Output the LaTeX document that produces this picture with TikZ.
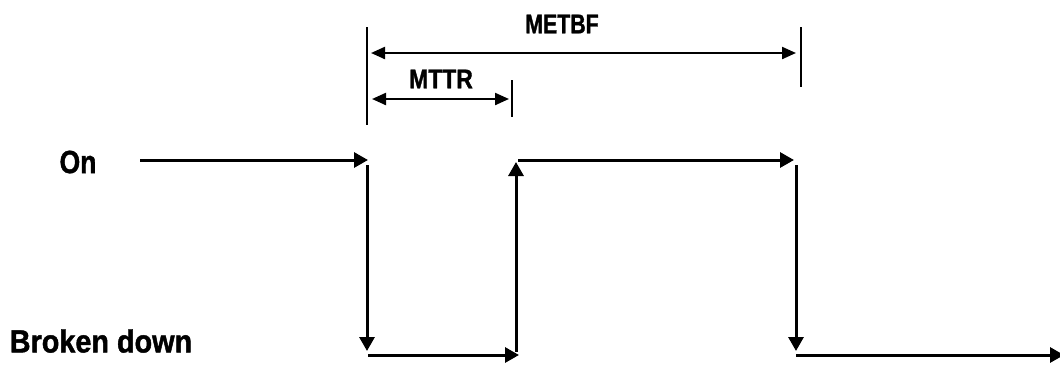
\documentclass[tikz,border=0pt]{standalone}
\usepackage{fontspec}
\setmainfont{Liberation Sans}
\newfontfamily\heavy{Liberation Sans Bold}[FakeBold=1.5]
\usetikzlibrary{arrows.meta}
\newcommand{\cond}[2]{\scalebox{#1}[1]{#2}}
\begin{document}
\begin{tikzpicture}[x=1pt,y=-1pt,
  flow/.style={line width=3pt,-{Triangle[length=14pt,width=15pt]}},
  dim/.style={line width=2.2pt,{Triangle[length=14pt,width=12pt]}-{Triangle[length=14pt,width=12pt]}},
  tick/.style={line width=2pt},
  lbl/.style={font=\heavy\fontsize{32}{34}\selectfont, inner sep=0pt},
  dlbl/.style={font=\heavy\fontsize{27}{30}\selectfont, inner sep=0pt}]
\useasboundingbox (0,0) rectangle (1060,365);
% labels
\node[lbl] (on) at (78,162) {\cond{0.83}{On}};
\node[lbl] (bd) at (101,341) {\cond{0.90}{Broken down}};
% flow coordinates
\coordinate (s0) at (140,160);
\coordinate (a1) at (368,160);
\coordinate (d1s) at (367,165);
\coordinate (d1e) at (367,351);
\coordinate (b1s) at (368,355);
\coordinate (b1e) at (519,355);
\coordinate (u1s) at (516,352);
\coordinate (u1e) at (516,162);
\coordinate (t1s) at (518,160);
\coordinate (t1e) at (794,160);
\coordinate (d2s) at (796,165);
\coordinate (d2e) at (796,351);
\coordinate (b2s) at (796,355);
\coordinate (b2e) at (1064,355);
\draw[flow] (s0) -- (a1);
\draw[flow] (d1s) -- (d1e);
\draw[flow] (b1s) -- (b1e);
\draw[flow] (u1s) -- (u1e);
\draw[flow] (t1s) -- (t1e);
\draw[flow] (d2s) -- (d2e);
\draw[flow] (b2s) -- (b2e);
% dimension ticks
\coordinate (tl1) at (367,27);
\coordinate (tl2) at (367,125);
\coordinate (tr1) at (801,27);
\coordinate (tr2) at (801,87);
\coordinate (tm1) at (512,80);
\coordinate (tm2) at (512,117);
\draw[tick] (tl1) -- (tl2);
\draw[tick] (tr1) -- (tr2);
\draw[tick] (tm1) -- (tm2);
\coordinate (m1) at (371,53);
\coordinate (m2) at (796,53);
\coordinate (r1) at (372,99);
\coordinate (r2) at (509,99);
\draw[dim] (m1) -- (m2);
\draw[dim] (r1) -- (r2);
\node[dlbl] (metbf) at (562,24) {\cond{0.79}{METBF}};
\node[dlbl] (mttr) at (441,79) {\cond{0.85}{MTTR}};
\end{tikzpicture}
\end{document}
